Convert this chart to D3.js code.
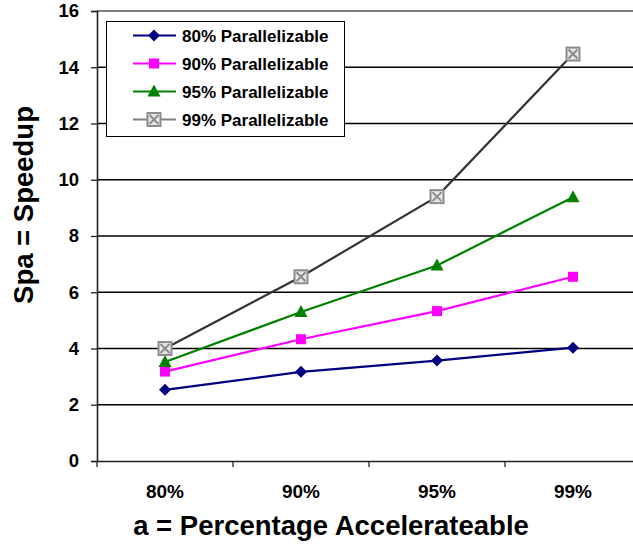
<!DOCTYPE html>
<html>
<head>
<meta charset="utf-8">
<script src="https://cdn.jsdelivr.net/npm/d3@7"></script>
<style>
  html, body { margin: 0; padding: 0; background: #fff; }
  svg { display: block; font-family: "Liberation Sans", Arial, sans-serif; }
</style>
</head>
<body>
<svg id="chart" width="633" height="544"></svg>
<script>
// Speedup for each accelerateable fraction, one series per parallelizable fraction
const categories = ["80%", "90%", "95%", "99%"];
const yTicks = [0, 2, 4, 6, 8, 10, 12, 14, 16];
const seriesNames = ["80% Parallelizable", "90% Parallelizable", "95% Parallelizable", "99% Parallelizable"];
const speedup80 = [2.53, 3.17, 3.57, 4.03];
const speedup90 = [3.18, 4.33, 5.33, 6.55];
const speedup95 = [3.52, 5.30, 6.95, 9.38];
const speedup99 = [4.00, 6.55, 9.40, 14.47];

const series = [
  { name: seriesNames[0], values: speedup80, color: "#000080", legendColor: "#000080", marker: "diamond" },
  { name: seriesNames[1], values: speedup90, color: "#ff00ff", legendColor: "#ff00ff", marker: "square" },
  { name: seriesNames[2], values: speedup95, color: "#008000", legendColor: "#008000", marker: "triangle" },
  { name: seriesNames[3], values: speedup99, color: "#333333", legendColor: "#808080", marker: "boxx" }
];

const svg = d3.select("#chart");
const plot = { left: 97, right: 641, top: 11, bottom: 461 };
const fontFamily = "'Liberation Sans', Arial, sans-serif";

const x = d3.scaleBand().domain(categories).range([plot.left, plot.right]);
const y = d3.scaleLinear().domain([0, 16]).range([plot.bottom, plot.top]);

// Horizontal gridlines
svg.append("g")
  .selectAll("line")
  .data(yTicks.filter(t => t > 0 && t < 16))
  .join("line")
  .attr("x1", plot.left).attr("x2", plot.right)
  .attr("y1", d => y(d)).attr("y2", d => y(d))
  .attr("stroke", "#000").attr("stroke-width", 1.3);

// Plot area top border
svg.append("line")
  .attr("x1", plot.left).attr("x2", plot.right)
  .attr("y1", y(16)).attr("y2", y(16))
  .attr("stroke", "#808080").attr("stroke-width", 2);

// Y axis
const yAxis = svg.append("g")
  .attr("transform", `translate(${plot.left},0)`)
  .call(d3.axisLeft(y).tickValues(yTicks).tickSize(6).tickPadding(12));
yAxis.select(".domain").attr("stroke", "#222").attr("stroke-width", 1.6);
yAxis.selectAll(".tick line").attr("stroke", "#222").attr("stroke-width", 1.3);
yAxis.selectAll(".tick text")
  .attr("font-size", 18.5).attr("font-weight", "bold").attr("fill", "#000")
  .attr("font-family", fontFamily);

// X axis with ticks between categories
const xAxis = svg.append("g")
  .attr("transform", `translate(0,${plot.bottom})`)
  .call(d3.axisBottom(x).tickSize(0).tickPadding(23.5));
xAxis.select(".domain").attr("stroke", "#222").attr("stroke-width", 1.6);
xAxis.selectAll(".tick text")
  .attr("font-size", 19).attr("font-weight", "bold").attr("fill", "#000")
  .attr("font-family", fontFamily);
xAxis.append("g")
  .selectAll("line")
  .data(categories)
  .join("line")
  .attr("x1", d => x(d)).attr("x2", d => x(d))
  .attr("y1", 0).attr("y2", 6)
  .attr("stroke", "#222").attr("stroke-width", 1.3);

// Axis titles
svg.append("text")
  .attr("x", 331).attr("y", 535)
  .attr("text-anchor", "middle")
  .attr("font-size", 27.5).attr("font-weight", "bold")
  .text("a = Percentage Accelerateable");

svg.append("text")
  .attr("transform", "translate(33,205) rotate(-90)")
  .attr("text-anchor", "middle")
  .attr("font-size", 27.5).attr("font-weight", "bold")
  .text("Spa = Speedup");

// Marker drawing
function drawMarker(g, type, color, cx, cy) {
  if (type === "diamond") {
    g.append("path")
      .attr("d", `M${cx},${cy - 6}L${cx + 6},${cy}L${cx},${cy + 6}L${cx - 6},${cy}Z`)
      .attr("fill", color);
  } else if (type === "square") {
    g.append("rect")
      .attr("x", cx - 5).attr("y", cy - 5).attr("width", 10).attr("height", 10)
      .attr("fill", color);
  } else if (type === "triangle") {
    g.append("path")
      .attr("d", `M${cx},${cy - 7}L${cx + 6.5},${cy + 5}L${cx - 6.5},${cy + 5}Z`)
      .attr("fill", color);
  } else if (type === "boxx") {
    g.append("rect")
      .attr("x", cx - 6.5).attr("y", cy - 6.5).attr("width", 13).attr("height", 13)
      .attr("fill", "#e6e6e6").attr("stroke", "#8c8c8c").attr("stroke-width", 2);
    g.append("path")
      .attr("d", `M${cx - 4.5},${cy - 4.5}L${cx + 4.5},${cy + 4.5}M${cx + 4.5},${cy - 4.5}L${cx - 4.5},${cy + 4.5}`)
      .attr("stroke", "#8c8c8c").attr("stroke-width", 2);
  }
}

// Series lines and markers
const line = d3.line()
  .x((d, i) => x(categories[i]) + x.bandwidth() / 2)
  .y(d => y(d));

const seriesG = svg.append("g");
series.forEach(s => {
  seriesG.append("path")
    .attr("d", line(s.values))
    .attr("fill", "none")
    .attr("stroke", s.color)
    .attr("stroke-width", 2.2);
});
series.forEach(s => {
  const mg = seriesG.append("g");
  s.values.forEach((v, i) => {
    drawMarker(mg, s.marker, s.color, x(categories[i]) + x.bandwidth() / 2, y(v));
  });
});

// Legend
const legend = svg.append("g");
legend.append("rect")
  .attr("x", 106.5).attr("y", 21.5).attr("width", 238).attr("height", 115)
  .attr("fill", "#fff").attr("stroke", "#000").attr("stroke-width", 1);
series.forEach((s, i) => {
  const ly = 35.5 + i * 28;
  legend.append("line")
    .attr("x1", 133).attr("x2", 176).attr("y1", ly).attr("y2", ly)
    .attr("stroke", s.legendColor).attr("stroke-width", 2.2);
  drawMarker(legend, s.marker, s.color, 154, ly);
  legend.append("text")
    .attr("x", 182).attr("y", ly + 6)
    .attr("font-size", 17).attr("font-weight", "bold")
    .text(s.name);
});
</script>
</body>
</html>
